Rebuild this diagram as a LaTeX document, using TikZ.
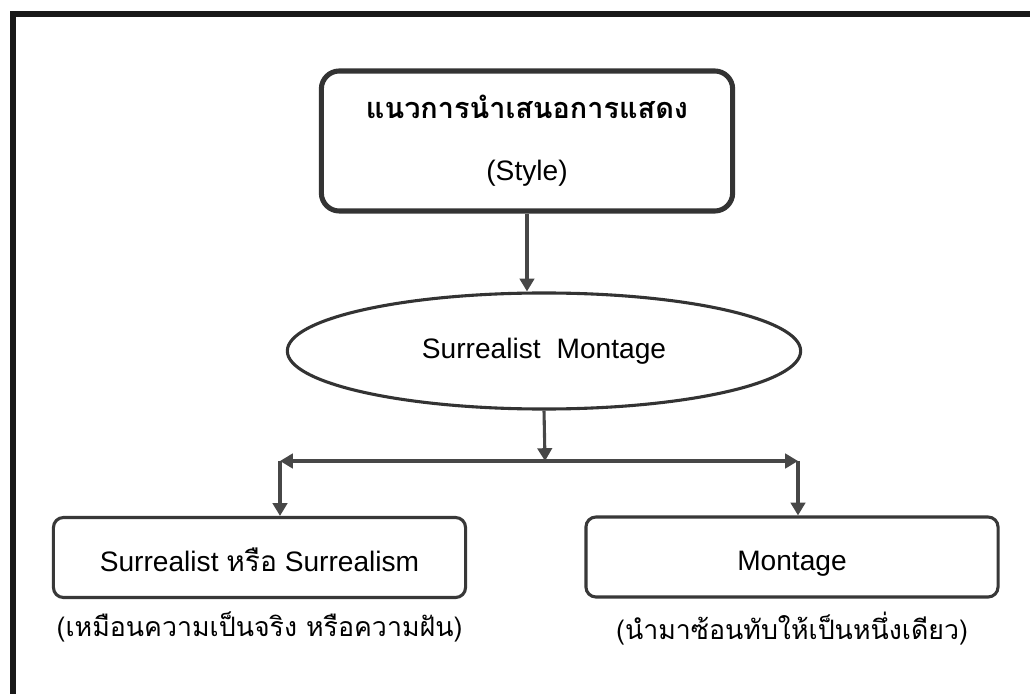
\documentclass[tikz,border=0pt]{standalone}
\usepackage{fontspec}
\setmainfont{Liberation Sans}
\newfontfamily\thai[Script=Thai]{Loma}
\usetikzlibrary{shapes,positioning,arrows.meta}

\begin{document}
\begin{tikzpicture}[x=0.025cm,y=-0.025cm,
  every node/.style={font=\fontsize{20}{24}\selectfont, text=black},
  box/.style={draw=black!78, line width=2.2pt, rectangle, rounded corners=0.25cm, minimum width=10.3cm, minimum height=2cm, text height=0.8cm, text depth=0.12cm},
  note/.style={font=\thai\fontsize{19}{22}\selectfont},
  link/.style={draw=black!72, line width=2.2pt, -{Triangle[length=0.32cm,width=0.36cm]}}]
\useasboundingbox (0,0) rectangle (1030,694);
\draw[line width=0.15cm, black!90] (13,720) -- (13,14) -- (1060,14);
\node[draw=black!80, line width=3.6pt, rounded corners=0.45cm, minimum width=10.28cm, minimum height=3.5cm, align=center] (style) at (527,141)
  {{\thai\bfseries\fontsize{20.5}{24}\selectfont แนวการนำเสนอการแสดง}\\[0.7cm] (Style)};
\node[draw=black!80, line width=2.2pt, shape=ellipse, minimum width=12.83cm, minimum height=2.9cm, inner sep=0pt] (mont) at (544,351)
  {Surrealist\hspace{0.4cm}Montage};
\node[box] (real) at (259.5,557.5) {Surrealist {\thai หรือ} Surrealism};
\node[box] (montage) at (792,557) {Montage};
\node[note, below=0.2cm of real] (realnote) {(เหมือนความเป็นจริง หรือความฝัน)};
\node[note, below=0.2cm of montage] (montnote) {(นำมาซ้อนทับให้เป็นหนึ่งเดียว)};
\coordinate (hub) at (545,461);
\coordinate (lend) at (280,461);
\coordinate (rend) at (798,461);
\draw[link] (style.south) -- (style.south |- mont.north);
\draw[link] (mont.south) -- (hub);
\draw[link, {Triangle[length=0.32cm,width=0.36cm]}-{Triangle[length=0.32cm,width=0.36cm]}] (lend) -- (rend);
\draw[link] (lend) -- (lend |- real.north);
\draw[link] (rend) -- (rend |- montage.north);
\end{tikzpicture}
\end{document}
